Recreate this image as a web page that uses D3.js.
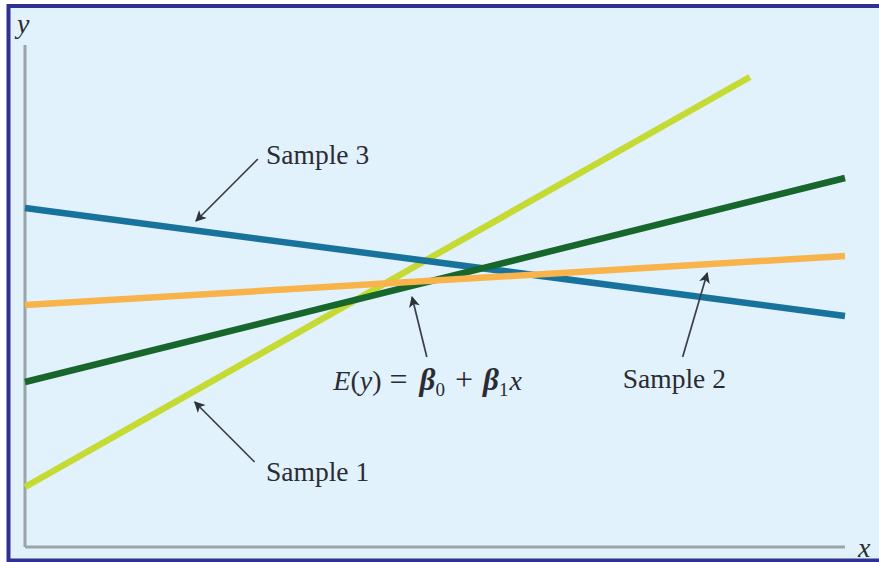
<!DOCTYPE html>
<html>
<head>
<meta charset="utf-8">
<script src="https://cdn.jsdelivr.net/npm/d3@7"></script>
<style>
  html, body { margin: 0; padding: 0; background: #ffffff; }
  svg { display: block; }
  text { font-family: "Liberation Serif", "DejaVu Serif", serif; fill: #2b2b33; }
</style>
</head>
<body>
<svg id="chart" width="879" height="562"></svg>
<script>
// Regression lines: [x, y] endpoints in data units
const seriesNames = ["Sample 1", "Sample 3", "E(y)", "Sample 2"];
const seriesStart = [[0, 1.2], [0, 6.78], [0, 3.3], [0, 4.84]];
const seriesEnd = [[8.84, 9.4], [10, 4.62], [10, 7.38], [10, 5.82]];
const seriesColors = ["#c6da34", "#17739c", "#17662c", "#f8b44a"];

// Callout labels: text anchor, arrow tail and arrow tip (data units)
const labelTexts = ["Sample 3", "Sample 1", "Sample 2"];
const labelAt = [[2.94, 7.66], [2.94, 1.32], [7.29, 3.18]];
const arrowTail = [[2.84, 7.76], [2.80, 1.70], [8.02, 3.80], [4.90, 3.80]];
const arrowTip = [[2.085, 6.52], [2.07, 2.90], [8.32, 5.48], [4.72, 5.0]];
const equationAt = [3.76, 3.14];

const xDomain = [0, 10];
const yDomain = [0, 10];

const svg = d3.select("#chart");
const W = 879, H = 562;

// frame: light panel with dark blue rule on top, left and bottom
svg.append("rect").attr("x", 8).attr("y", 6).attr("width", W - 8).attr("height", H - 8)
  .attr("fill", "#e1f2fc");
svg.append("path")
  .attr("d", `M${W},6 H8.5 V${H - 1.5} H${W}`)
  .attr("fill", "none").attr("stroke", "#2f3092").attr("stroke-width", 4);

const x = d3.scaleLinear().domain(xDomain).range([25, 845]);
const y = d3.scaleLinear().domain(yDomain).range([547, 47]);

// axes (no ticks)
const axisColor = "#9aa4aa";
svg.append("line").attr("x1", x(0)).attr("x2", x(0)).attr("y1", 45).attr("y2", y(0))
  .attr("stroke", axisColor).attr("stroke-width", 3);
svg.append("line").attr("x1", x(0)).attr("x2", x(10)).attr("y1", y(0)).attr("y2", y(0))
  .attr("stroke", axisColor).attr("stroke-width", 3);

svg.append("text").attr("x", 17).attr("y", 33).attr("font-size", 28)
  .attr("font-style", "italic").text("y");
svg.append("text").attr("x", 858).attr("y", 557).attr("font-size", 28)
  .attr("font-style", "italic").text("x");

// regression lines
const lineGen = d3.line().x(d => x(d[0])).y(d => y(d[1]));
svg.append("g").selectAll("path")
  .data(seriesNames.map((n, i) => ({ name: n, pts: [seriesStart[i], seriesEnd[i]], color: seriesColors[i] })))
  .join("path")
  .attr("d", d => lineGen(d.pts))
  .attr("fill", "none")
  .attr("stroke", d => d.color)
  .attr("stroke-width", 6.5)
  .attr("stroke-linecap", "butt");

// arrowheads
svg.append("defs").append("marker")
  .attr("id", "head")
  .attr("viewBox", "0 0 10 10")
  .attr("refX", 9).attr("refY", 5)
  .attr("markerWidth", 13).attr("markerHeight", 11)
  .attr("markerUnits", "userSpaceOnUse")
  .attr("orient", "auto")
  .append("path").attr("d", "M0,0 L10,5 L0,10 L2.5,5 Z").attr("fill", "#2e3338");

svg.append("g").selectAll("line")
  .data(arrowTail.map((t, i) => [t, arrowTip[i]]))
  .join("line")
  .attr("x1", d => x(d[0][0])).attr("y1", d => y(d[0][1]))
  .attr("x2", d => x(d[1][0])).attr("y2", d => y(d[1][1]))
  .attr("stroke", "#3a3f45").attr("stroke-width", 1.7)
  .attr("marker-end", "url(#head)");

// sample labels
svg.append("g").selectAll("text")
  .data(labelTexts.map((t, i) => ({ t, p: labelAt[i] })))
  .join("text")
  .attr("x", d => x(d.p[0])).attr("y", d => y(d.p[1]))
  .attr("font-size", 27.5)
  .text(d => d.t);

// population regression equation
const eq = svg.append("text")
  .attr("x", x(equationAt[0])).attr("y", y(equationAt[1]))
  .attr("font-size", 28);
eq.append("tspan").attr("font-style", "italic").text("E");
eq.append("tspan").text("(");
eq.append("tspan").attr("font-style", "italic").text("y");
eq.append("tspan").text(")");
eq.append("tspan").attr("dx", 8).attr("font-size", 32).text("=");
eq.append("tspan").attr("dx", 12).attr("font-style", "italic").attr("font-weight", "bold").attr("font-size", 31).text("β");
eq.append("tspan").attr("font-size", 19).attr("dy", 6).text("0");
eq.append("tspan").attr("dy", -6).attr("dx", 10).attr("font-size", 32).text("+");
eq.append("tspan").attr("dx", 10).attr("font-style", "italic").attr("font-weight", "bold").attr("font-size", 31).text("β");
eq.append("tspan").attr("font-size", 19).attr("dy", 6).text("1");
eq.append("tspan").attr("dy", -6).attr("dx", 1).attr("font-style", "italic").text("x");
</script>
</body>
</html>
